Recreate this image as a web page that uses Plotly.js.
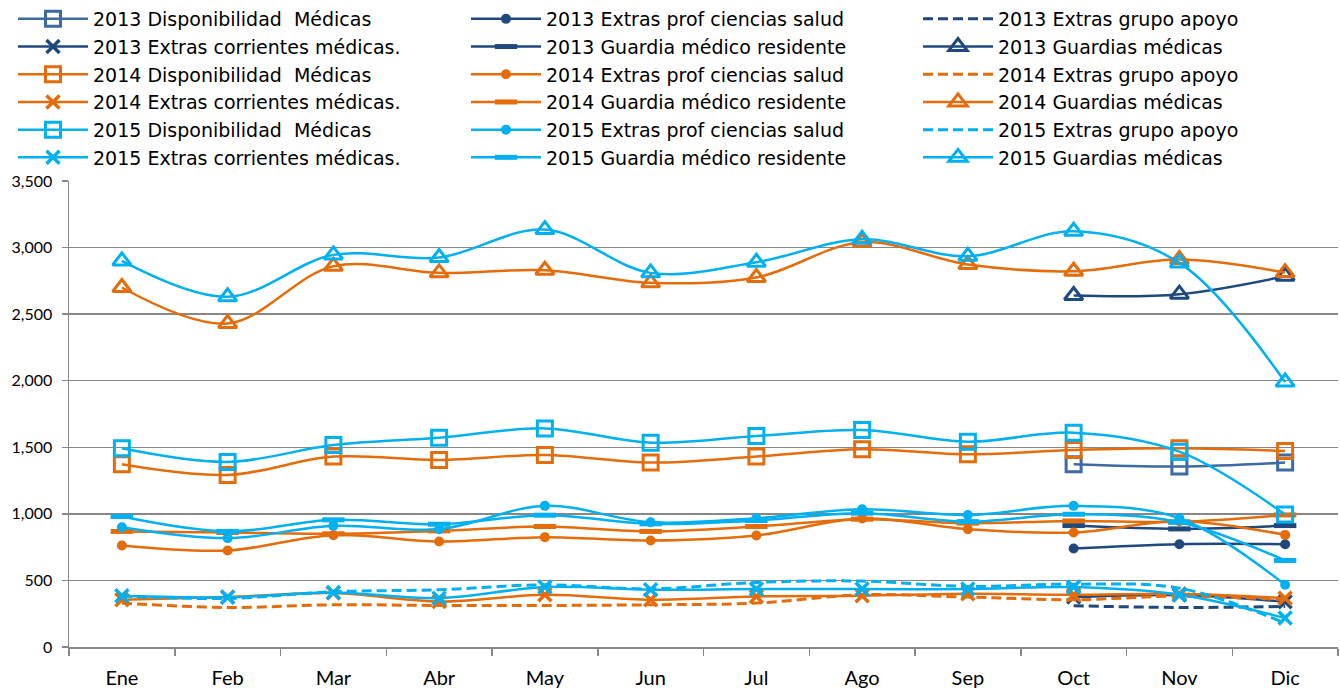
<!DOCTYPE html>
<html>
<head>
<meta charset="utf-8">
<script src="https://cdn.plot.ly/plotly-3.0.1.min.js"></script>
<style>html,body{margin:0;padding:0;background:#fff;}#chart{width:1340px;height:688px;}</style>
</head>
<body>
<div id="chart"></div>
<script>
const months = ['Ene','Feb','Mar','Abr','May','Jun','Jul','Ago','Sep','Oct','Nov','Dic'];
const N = null;

const disp13      = [N,N,N,N,N,N,N,N,N,1372,1355,1385];
const prof13      = [N,N,N,N,N,N,N,N,N,740,772,772];
const apoyo13     = [N,N,N,N,N,N,N,N,N,310,297,305];
const corr13      = [N,N,N,N,N,N,N,N,N,375,390,340];
const guardRes13  = [N,N,N,N,N,N,N,N,N,912,887,912];
const guardias13  = [N,N,N,N,N,N,N,N,N,2640,2650,2785];

const disp14      = [1372,1292,1430,1405,1442,1385,1430,1485,1447,1480,1492,1472];
const prof14      = [762,725,840,792,825,800,838,965,885,860,945,842];
const apoyo14     = [330,297,317,312,312,317,330,392,375,355,382,355];
const corr14      = [355,375,405,342,392,355,380,385,400,392,400,367];
const guardRes14  = [868,860,850,872,905,868,905,960,930,947,940,992];
const guardias14  = [2700,2430,2860,2810,2830,2735,2775,3040,2873,2822,2910,2812];

const disp15      = [1492,1390,1517,1572,1642,1535,1585,1630,1542,1610,1467,995];
const prof15      = [900,818,910,885,1060,937,967,1035,992,1060,967,467];
const apoyo15     = [383,365,415,430,467,437,485,495,455,472,442,180];
const corr15      = [385,373,410,367,450,430,435,435,435,450,392,217];
const guardRes15  = [980,868,955,922,990,925,950,1005,942,997,937,650];
const guardias15  = [2900,2630,2945,2925,3135,2810,2890,3062,2935,3122,2885,1990];

const years = ['2013','2014','2015'];
const colors = {'2013':'#1f497d','2014':'#e46c0a','2015':'#00b0f0'};
const dispColor2013 = '#3c6aa3';
const seriesData = {
  '2013': [disp13, prof13, apoyo13, corr13, guardRes13, guardias13],
  '2014': [disp14, prof14, apoyo14, corr14, guardRes14, guardias14],
  '2015': [disp15, prof15, apoyo15, corr15, guardRes15, guardias15]
};
const seriesNames = ['Disponibilidad  Médicas','Extras prof ciencias salud','Extras grupo apoyo','Extras corrientes médicas.','Guardia médico residente','Guardias médicas'];
// legend column of each series (Excel legend in 3 columns)
const legendColumn = ['legend','legend2','legend3','legend','legend2','legend3'];

function markerFor(kind, c){
  switch(kind){
    case 0: return {symbol:'square-open', size:15, color:c, line:{color:c, width:3}};
    case 1: return {symbol:'circle', size:10, color:c, line:{width:0}};
    case 2: return {size:0};
    case 3: return {symbol:'x-thin-open', size:13, color:c, line:{color:c, width:3.5}};
    case 4: return {symbol:'line-ew-open', size:16, color:c, line:{color:c, width:5}};
    case 5: return {symbol:'triangle-up-open', size:16, color:c, line:{color:c, width:3}};
  }
}

const traces = [];
years.forEach(y => {
  seriesData[y].forEach((vals, k) => {
    const c = (y === '2013' && k === 0) ? dispColor2013 : colors[y];
    traces.push({
      type:'scatter',
      x: months,
      y: vals,
      name: y + ' ' + seriesNames[k],
      legend: legendColumn[k],
      mode: k === 2 ? 'lines' : 'lines+markers',
      line: {color:c, width: k === 2 ? 3 : 2.5, shape:'spline', smoothing:1, dash: k === 2 ? '10px,5px' : 'solid'},
      marker: markerFor(k, c),
      connectgaps:false,
      hoverinfo:'x+y+name'
    });
  });
});

function legendAt(xpx){
  return {
    orientation:'v', xref:'container', yref:'container',
    x:xpx/1340, y:1, xanchor:'left', yanchor:'top',
    itemwidth:70, tracegroupgap:0,
    font:{size:19, family:'"DejaVu Sans", sans-serif', color:'#000'},
    traceorder:'normal', bgcolor:'rgba(0,0,0,0)'
  };
}

const layout = {
  width:1340, height:688,
  paper_bgcolor:'#fff', plot_bgcolor:'#fff',
  margin:{l:69, r:2, t:181, b:41, autoexpand:false},
  font:{family:'Lato, "Open Sans", sans-serif', color:'#000', size:16},
  showlegend:true,
  legend: legendAt(13),
  legend2: legendAt(466),
  legend3: legendAt(918),
  xaxis:{
    type:'category', range:[-0.5, 11.5],
    showgrid:false, showline:true, linecolor:'#878787', linewidth:1.5,
    ticks:'outside', tickson:'boundaries', ticklen:7, tickcolor:'#878787', tickwidth:1.5,
    tickfont:{size:20}, ticklabelstandoff:12, fixedrange:true
  },
  yaxis:{
    range:[0,3500], dtick:500, tickformat:',d',
    showgrid:true, gridcolor:'#878787', gridwidth:1.5,
    showline:true, linecolor:'#878787', linewidth:1.5,
    ticks:'outside', ticklen:6, tickcolor:'#878787', tickwidth:1.5,
    tickfont:{size:16}, ticklabelstandoff:6, zeroline:false, fixedrange:true
  }
};

Plotly.newPlot('chart', traces, layout, {displayModeBar:false, staticPlot:true});
</script>
</body>
</html>
